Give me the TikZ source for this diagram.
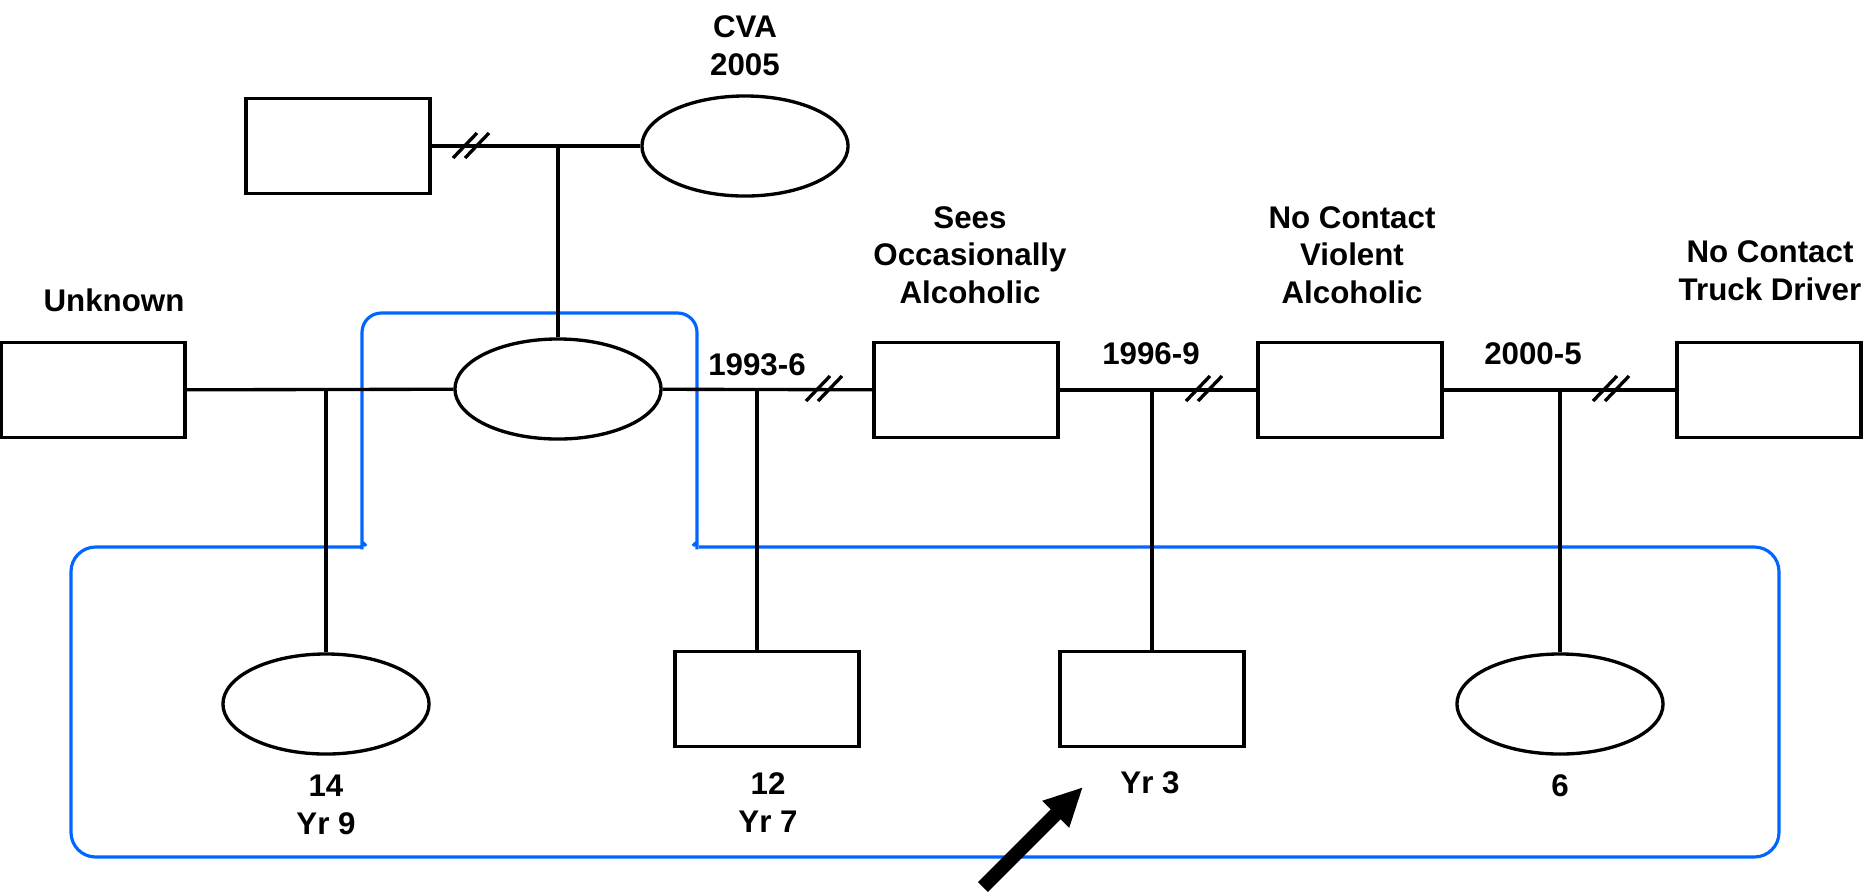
\documentclass[tikz,border=0pt]{standalone}
\usepackage{fontspec}
\setmainfont{Liberation Sans}
\usetikzlibrary{shapes.geometric,arrows.meta}
\definecolor{kinblue}{RGB}{0,102,255}
\tikzset{
	male/.style={draw,line width=0.95pt,rectangle,minimum width=1.84cm,minimum height=0.95cm,inner sep=0pt},
	female/.style={draw,line width=0.95pt,ellipse,minimum width=2.06cm,minimum height=1cm,inner sep=0pt},
	kin/.style={line width=0.95pt},
	note/.style={font=\fontsize{8.9}{10.6}\selectfont\bfseries,align=center,inner sep=0pt,anchor=base},
	household/.style={draw=kinblue,line width=0.9pt},
	pointer/.style={line width=4pt,-{Triangle[length=11pt,width=10pt]}}
}
\def\divorce(#1){\draw[kin,shift={(#1)}] (-17,12) -- (7,-13) (-5,12) -- (19,-13);}

\begin{document}
\begin{tikzpicture}[x=0.01cm,y=-0.01cm]
				\useasboundingbox (0,0) rectangle (1863,893);
				
				\draw[household,rounded corners=5.5pt] (366,546) .. controls (362,541) .. (362,530) -- (362,313) -- (697,313) -- (697,530) .. controls (697,541) .. (693,546);
				\draw[household,rounded corners=7pt] (362,547) -- (71,547) -- (71,857) -- (1779,857) -- (1779,547) -- (699,547);
				
				\node[male] (gfa) at (338,146) {};
				\node[female] (gma) at (745,146) {};
				\node[note] (tgma) at (745,75) {CVA\\2005};
				\coordinate (jgp) at (558,146);
				\draw[kin] (gfa) -- (gma);
				\divorce(470,146)
				
				\node[male] (unk) at (93,390) {};
				\node[note] (tunk) at (114,311) {Unknown};
				\node[female] (mum) at (558,389) {};
				\node[male] (sees) at (966,390) {};
				\node[note] (tsees) at (970,303) {Sees\\Occasionally\\Alcoholic};
				\node[male] (viol) at (1350,390) {};
				\node[note] (tviol) at (1352,303) {No Contact\\Violent\\Alcoholic};
				\node[male] (truck) at (1769,390) {};
				\node[note] (ttruck) at (1770,300) {No Contact\\Truck Driver};
				\draw[kin] (jgp) -- (mum);
				
				\draw[kin] (unk) -- (mum);
				\draw[kin] (mum) -- (sees);
				\draw[kin] (sees) -- (viol);
				\draw[kin] (viol) -- (truck);
				\divorce(823,389)
				\divorce(1203,389)
				\divorce(1610,389)
				\node[note] (tm1) at (757,375) {1993-6};
				\node[note] (tm2) at (1151,364) {1996-9};
				\node[note] (tm3) at (1533,364) {2000-5};
				
				\coordinate (j0) at (326,389);
				\coordinate (j1) at (757,389);
				\coordinate (j2) at (1152,389);
				\coordinate (j3) at (1560,389);
				\node[female] (d14) at (326,704) {};
				\node[male] (s12) at (767,699) {};
				\node[male] (idx) at (1152,699) {};
				\node[female] (d6) at (1560,704) {};
				\draw[kin] (j0) -- (d14);
				\draw[kin] (j1) -- (j1 |- s12.north);
				\draw[kin] (j2) -- (idx);
				\draw[kin] (j3) -- (d6);
				\node[note] (td14) at (326,834) {14\\Yr 9};
				\node[note] (ts12) at (768,832) {12\\Yr 7};
				\node[note] (tidx) at (1150,793) {Yr 3};
				\node[note] (td6) at (1560,796) {6};
				
				\coordinate (ptr) at (983,887);
				\coordinate (ptrtip) at (1083,787);
				\draw[pointer] (ptr) -- (ptrtip);
			\end{tikzpicture}
\end{document}
